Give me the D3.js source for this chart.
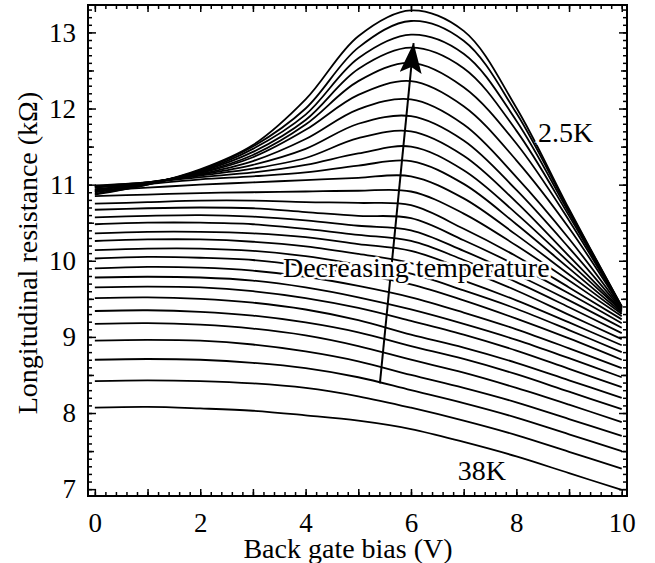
<!DOCTYPE html>
<html>
<head>
<meta charset="utf-8">
<script src="https://cdn.jsdelivr.net/npm/d3@7"></script>
<style>
  body { margin: 0; background: #fff; }
  text { font-family: "Liberation Serif", "Times New Roman", serif; fill: #000; }
</style>
</head>
<body>
<svg width="655" height="563"></svg>
<script>
// gate bias sample points (V)
const gateBias = [0, 1, 2, 3, 4, 5, 6, 7, 8, 9, 10];

// resistance curves (kOhm), top = 2.5K ... bottom = 38K
const resistanceCurves = [
  [10.87, 11.00, 11.20, 11.52, 12.12, 12.95, 13.29, 13.02, 12.01, 10.68, 9.40],
  [10.88, 11.00, 11.19, 11.50, 12.00, 12.80, 13.15, 12.89, 11.94, 10.66, 9.40],
  [10.90, 11.01, 11.18, 11.47, 11.92, 12.66, 12.97, 12.72, 11.84, 10.63, 9.39],
  [10.91, 11.01, 11.17, 11.43, 11.85, 12.52, 12.80, 12.53, 11.71, 10.59, 9.39],
  [10.93, 11.02, 11.16, 11.39, 11.79, 12.36, 12.60, 12.28, 11.54, 10.53, 9.38],
  [10.94, 11.02, 11.15, 11.36, 11.72, 12.18, 12.36, 12.03, 11.32, 10.43, 9.38],
  [10.96, 11.03, 11.14, 11.31, 11.60, 11.99, 12.12, 11.79, 11.10, 10.29, 9.37],
  [10.97, 11.03, 11.13, 11.26, 11.47, 11.80, 11.90, 11.58, 10.93, 10.17, 9.36],
  [10.98, 11.03, 11.12, 11.21, 11.35, 11.61, 11.70, 11.38, 10.77, 10.06, 9.35],
  [10.99, 11.03, 11.10, 11.16, 11.26, 11.41, 11.50, 11.19, 10.62, 9.98, 9.34],
  [10.97, 11.01, 11.07, 11.11, 11.16, 11.25, 11.31, 11.01, 10.48, 9.90, 9.32],
  [10.92, 10.96, 11.00, 11.03, 11.06, 11.09, 11.11, 10.82, 10.34, 9.82, 9.30],
  [10.85, 10.87, 10.89, 10.90, 10.91, 10.92, 10.91, 10.62, 10.20, 9.74, 9.27],
  [10.75, 10.77, 10.79, 10.79, 10.77, 10.76, 10.73, 10.42, 10.06, 9.65, 9.23],
  [10.67, 10.69, 10.70, 10.69, 10.64, 10.59, 10.56, 10.27, 9.94, 9.57, 9.18],
  [10.57, 10.59, 10.60, 10.58, 10.53, 10.46, 10.40, 10.13, 9.82, 9.48, 9.12],
  [10.48, 10.50, 10.50, 10.48, 10.42, 10.34, 10.26, 10.01, 9.72, 9.39, 9.05],
  [10.36, 10.38, 10.38, 10.36, 10.31, 10.22, 10.13, 9.89, 9.61, 9.29, 8.97],
  [10.26, 10.28, 10.28, 10.25, 10.19, 10.09, 9.97, 9.74, 9.48, 9.19, 8.89],
  [10.14, 10.16, 10.16, 10.13, 10.06, 9.95, 9.83, 9.61, 9.37, 9.09, 8.80],
  [10.03, 10.05, 10.04, 10.01, 9.93, 9.82, 9.69, 9.48, 9.24, 8.98, 8.70],
  [9.90, 9.92, 9.91, 9.87, 9.79, 9.67, 9.52, 9.32, 9.10, 8.85, 8.59],
  [9.78, 9.79, 9.78, 9.74, 9.65, 9.52, 9.36, 9.17, 8.96, 8.72, 8.47],
  [9.65, 9.66, 9.65, 9.60, 9.51, 9.38, 9.21, 9.03, 8.82, 8.58, 8.34],
  [9.51, 9.52, 9.50, 9.45, 9.36, 9.22, 9.03, 8.86, 8.66, 8.43, 8.20],
  [9.34, 9.35, 9.33, 9.28, 9.19, 9.06, 8.88, 8.71, 8.51, 8.28, 8.05],
  [9.17, 9.18, 9.16, 9.11, 9.02, 8.88, 8.70, 8.53, 8.33, 8.11, 7.88],
  [8.95, 8.96, 8.95, 8.90, 8.81, 8.68, 8.50, 8.33, 8.14, 7.92, 7.70],
  [8.70, 8.71, 8.70, 8.66, 8.59, 8.47, 8.30, 8.13, 7.94, 7.72, 7.50],
  [8.42, 8.43, 8.42, 8.39, 8.33, 8.22, 8.07, 7.90, 7.71, 7.49, 7.27],
  [8.07, 8.08, 8.06, 8.03, 7.97, 7.90, 7.79, 7.62, 7.43, 7.21, 6.99]
];

const xTickLabels = [0, 2, 4, 6, 8, 10];
const yTickLabels = [7, 8, 9, 10, 11, 12, 13];

const svg = d3.select('svg');
const plotLeft = 88, plotRight = 627, plotTop = 5, plotBottom = 496;

const x = d3.scaleLinear().domain([-0.13, 10.1]).range([plotLeft, plotRight]);
const y = d3.scaleLinear().domain([6.91, 13.36]).range([plotBottom, plotTop]);

svg.append('rect').attr('width', 655).attr('height', 563).attr('fill', '#fff');

// curves
const line = d3.line()
  .x((d, i) => x(gateBias[i]))
  .y(d => y(d))
  .curve(d3.curveCatmullRom.alpha(0.5));

svg.append('g')
  .selectAll('path')
  .data(resistanceCurves)
  .enter()
  .append('path')
  .attr('d', line)
  .attr('fill', 'none')
  .attr('stroke', '#000')
  .attr('stroke-width', 1.8);

// ticks, all pointing inward, mirrored on every side
const xMinor = d3.range(0, 51).map(i => i * 0.2);
const xMajor = d3.range(0, 11);
const yMinor = d3.range(70, 134).map(i => i / 10);
const yHalf = d3.range(7, 14).map(i => i + 0.5).filter(v => v < 13.36);
const yMajor = yTickLabels;

function ticks(axisFn, scale, values, size, pos) {
  svg.append('g')
    .attr('transform', pos)
    .call(axisFn(scale).tickValues(values).tickSize(-size).tickFormat(''))
    .call(g => g.select('.domain').remove())
    .selectAll('line').attr('stroke-width', 1.5);
}

ticks(d3.axisBottom, x, xMinor, 4, `translate(0,${plotBottom})`);
ticks(d3.axisBottom, x, xMajor, 7, `translate(0,${plotBottom})`);
ticks(d3.axisTop, x, xMinor, 4, `translate(0,${plotTop})`);
ticks(d3.axisTop, x, xMajor, 7, `translate(0,${plotTop})`);
ticks(d3.axisLeft, y, yMinor, 4, `translate(${plotLeft},0)`);
ticks(d3.axisLeft, y, yHalf, 6, `translate(${plotLeft},0)`);
ticks(d3.axisLeft, y, yMajor, 8, `translate(${plotLeft},0)`);
ticks(d3.axisRight, y, yMinor, 4, `translate(${plotRight},0)`);
ticks(d3.axisRight, y, yHalf, 6, `translate(${plotRight},0)`);
ticks(d3.axisRight, y, yMajor, 8, `translate(${plotRight},0)`);

// tick labels
svg.append('g')
  .attr('transform', `translate(0,${plotBottom})`)
  .call(d3.axisBottom(x).tickValues(xTickLabels).tickFormat(d3.format('d')).tickSize(0).tickPadding(17))
  .call(g => g.select('.domain').remove())
  .selectAll('text')
  .attr('font-size', 27)
  .attr('font-family', '"Liberation Serif", serif');

svg.append('g')
  .attr('transform', `translate(${plotLeft},0)`)
  .call(d3.axisLeft(y).tickValues(yTickLabels).tickFormat(d3.format('d')).tickSize(0).tickPadding(12))
  .call(g => g.select('.domain').remove())
  .selectAll('text')
  .attr('font-size', 27)
  .attr('font-family', '"Liberation Serif", serif');

// frame
svg.append('rect')
  .attr('x', plotLeft).attr('y', plotTop)
  .attr('width', plotRight - plotLeft).attr('height', plotBottom - plotTop)
  .attr('fill', 'none').attr('stroke', '#000').attr('stroke-width', 2);

// axis titles
svg.append('text')
  .attr('x', 348).attr('y', 558)
  .attr('text-anchor', 'middle')
  .attr('font-size', 28)
  .text('Back gate bias (V)');

svg.append('text')
  .attr('transform', 'translate(37,253) rotate(-90)')
  .attr('text-anchor', 'middle')
  .attr('font-size', 28)
  .text('Longitudinal resistance (kΩ)');

// arrow
const arrowFrom = [5.41, 8.39];
const arrowTo = [6.05, 12.86];
const defs = svg.append('defs');
defs.append('marker')
  .attr('id', 'head')
  .attr('viewBox', '0 0 30 22')
  .attr('refX', 30).attr('refY', 11)
  .attr('markerWidth', 30).attr('markerHeight', 22)
  .attr('markerUnits', 'userSpaceOnUse')
  .attr('orient', 'auto')
  .append('path')
  .attr('d', 'M0,0 L30,11 L0,22 L6,11 Z')
  .attr('fill', '#000');

svg.append('line')
  .attr('x1', x(arrowFrom[0])).attr('y1', y(arrowFrom[1]))
  .attr('x2', x(arrowTo[0])).attr('y2', y(arrowTo[1]))
  .attr('stroke', '#000').attr('stroke-width', 2)
  .attr('marker-end', 'url(#head)');

// annotations
function note(txt, vx, vy) {
  svg.append('text')
    .attr('x', x(vx)).attr('y', y(vy))
    .attr('font-size', 28)
    .attr('stroke', '#fff').attr('stroke-width', 5)
    .attr('paint-order', 'stroke')
    .text(txt);
}
note('2.5K', 8.41, 11.56);
note('38K', 6.89, 7.12);
note('Decreasing temperature', 3.57, 9.79);
</script>
</body>
</html>
